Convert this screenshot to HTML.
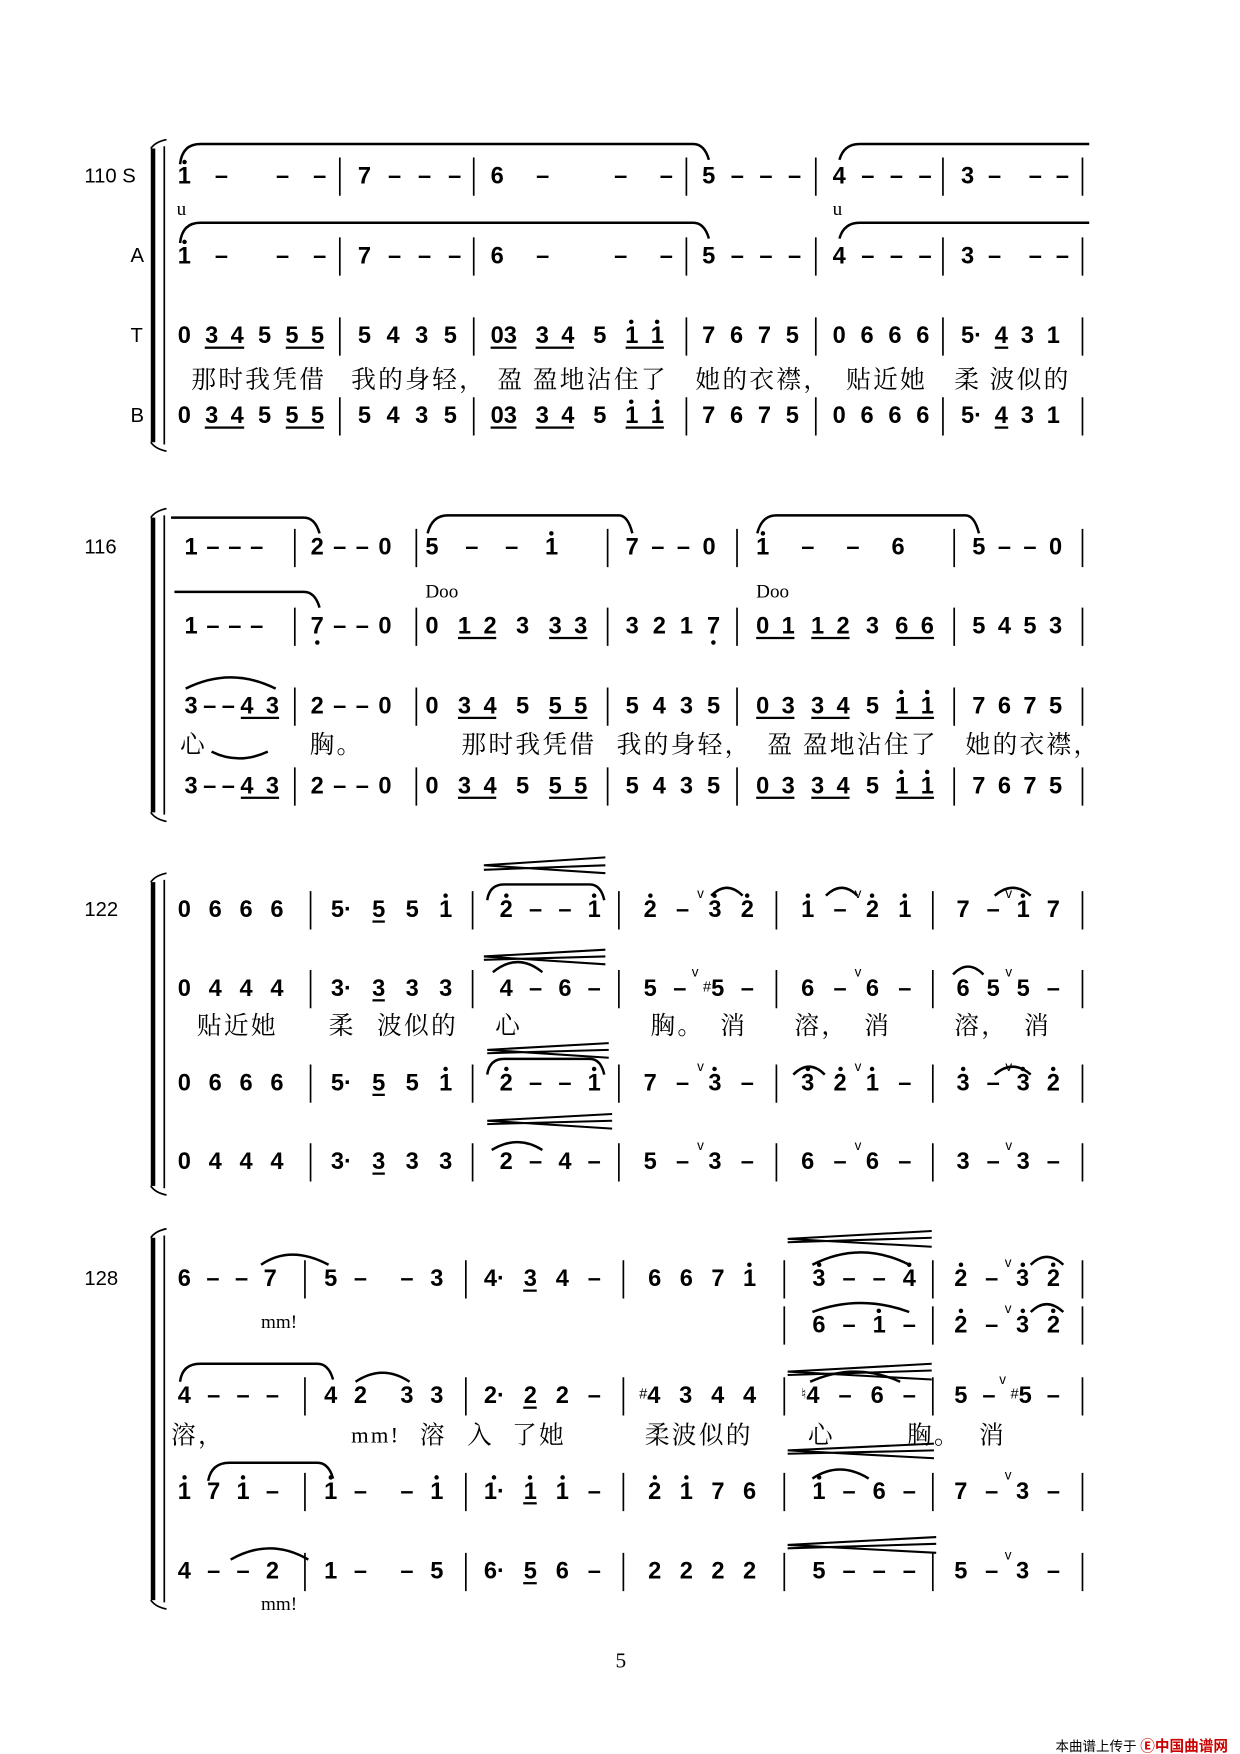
<!DOCTYPE html>
<html><head><meta charset="utf-8"><style>
body{margin:0;background:#fff}
#w{position:relative;width:1102px;height:1559px;transform:scale(1.12523);transform-origin:0 0;overflow:hidden}
.m{position:absolute;display:flex;justify-content:space-between;align-items:center;height:22px;font:bold 21px "Liberation Sans",sans-serif;line-height:20px;color:#000}
.m span{position:relative}
.h::before{content:"";position:absolute;left:50%;top:-5px;width:4px;height:4px;margin-left:-2px;border-radius:50%;background:#000}
.l::after{content:"";position:absolute;left:50%;bottom:-6px;width:4px;height:4px;margin-left:-2px;border-radius:50%;background:#000}
.m .u{display:flex;gap:11px;border-bottom:2px solid #000;line-height:19px}
.v{position:absolute;left:-10px;top:-12px;font:normal 12px "Liberation Sans",sans-serif}
.sh{font:normal 13px "Liberation Sans",sans-serif;vertical-align:top}
.ly{position:absolute;font:22px "Liberation Serif","Noto Serif CJK SC",serif;white-space:pre;line-height:24px;letter-spacing:2px}
.lb{position:absolute;font:18px "Liberation Sans",sans-serif}
.sm{position:absolute;font:17px "Liberation Serif",serif}
svg{position:absolute;left:0;top:0}
</style></head><body><div id="w">
<svg width="1102" height="1559" fill="none" stroke="#000">
<g stroke-width="4">
<path d="M136 132V393M136 460V722M136 784V1054M136 1100V1422"/>
</g>
<g stroke-width="1.5">
<path d="M146 130V395M146 458V724M146 782V1056M146 1098V1424"/>
<path d="M134 132Q138 126 148 124M134 393Q138 399 148 401M134 460Q138 454 148 452M134 722Q138 728 148 730M134 784Q138 778 148 776M134 1054Q138 1060 148 1062M134 1100Q138 1094 148 1092M134 1422Q138 1428 148 1430"/>
<path d="M302 140v34M421 140v34M610 140v34M725 140v34M838 140v34M962 140v34M302 211v34M421 211v34M610 211v34M725 211v34M838 211v34M962 211v34M302 282v34M421 282v34M610 282v34M725 282v34M838 282v34M962 282v34M302 353v34M421 353v34M610 353v34M725 353v34M838 353v34M962 353v34"/>
<path d="M262 470v34M370 470v34M540 470v34M655 470v34M848 470v34M962 470v34M262 540v34M370 540v34M540 540v34M655 540v34M848 540v34M962 540v34M262 611v34M370 611v34M540 611v34M655 611v34M848 611v34M962 611v34M262 682v34M370 682v34M540 682v34M655 682v34M848 682v34M962 682v34"/>
<path d="M276 792v34M420 792v34M550 792v34M690 792v34M829 792v34M962 792v34M276 862v34M420 862v34M550 862v34M690 862v34M829 862v34M962 862v34M276 946v34M420 946v34M550 946v34M690 946v34M829 946v34M962 946v34M276 1016v34M420 1016v34M550 1016v34M690 1016v34M829 1016v34M962 1016v34"/>
<path d="M271 1120v34M414 1120v34M554 1120v34M697 1120v34M829 1120v34M962 1120v34M697 1161v34M829 1161v34M962 1161v34M271 1224v34M414 1224v34M554 1224v34M697 1224v34M829 1224v34M962 1224v34M271 1309v34M414 1309v34M554 1309v34M697 1309v34M829 1309v34M962 1309v34M271 1380v34M414 1380v34M554 1380v34M697 1380v34M829 1380v34M962 1380v34"/>
</g>
<g stroke-width="2.2">
<path d="M160 146Q162 128 178 128H616Q626 128 630 142"/>
<path d="M160 216Q162 198 178 198H616Q626 198 630 212"/>
<path d="M746 142Q750 128 764 128H968"/>
<path d="M746 212Q750 198 764 198H968"/>
<path d="M152 460H270Q280 460 284 474"/>
<path d="M155 526H270Q280 526 284 540"/>
<path d="M380 474Q384 458 398 458H550Q558 458 562 474"/>
<path d="M673 474Q677 458 690 458H858Q866 458 870 474"/>
<path d="M165 612Q205 592 245 612"/>
<path d="M188 668Q212 680 238 668"/>
<path d="M433 800Q435 786 448 786H524Q534 786 537 800"/>
<path d="M438 864Q460 846 482 864"/>
<path d="M632 796Q646 782 660 796"/>
<path d="M734 796Q748 782 762 796"/>
<path d="M884 796Q900 782 916 796"/>
<path d="M847 866Q860 852 874 866"/>
<path d="M433 955Q435 941 448 941H524Q534 941 537 955"/>
<path d="M705 955Q719 941 733 955"/>
<path d="M884 955Q900 941 916 955"/>
<path d="M437 1022Q460 1008 482 1022"/>
<path d="M232 1124Q258 1106 292 1124"/>
<path d="M722 1124Q765 1102 808 1124"/>
<path d="M722 1166Q765 1150 808 1166"/>
<path d="M916 1124Q930 1110 945 1124"/>
<path d="M916 1166Q930 1152 945 1166"/>
<path d="M160 1228Q162 1212 178 1212H282Q292 1212 296 1226"/>
<path d="M316 1228Q340 1212 364 1228"/>
<path d="M720 1228Q760 1210 800 1228"/>
<path d="M185 1316Q188 1300 204 1300H282Q292 1300 296 1314"/>
<path d="M722 1314Q746 1298 772 1314"/>
<path d="M205 1386Q240 1366 274 1386"/>
</g>
<g stroke-width="1.8">
<path d="M430 769L538 762M430 769L538 776M430 773L538 769"/>
<path d="M430 850L538 844M430 850L538 857M430 853L538 850"/>
<path d="M433 933L541 927M433 933L541 940M433 936L541 933"/>
<path d="M433 996L544 990M433 996L544 1003M433 999L544 996"/>
<path d="M700 1101L828 1094M700 1101L828 1108M700 1104L828 1100"/>
<path d="M700 1219L828 1212M700 1219L828 1226M700 1222L828 1218"/>
<path d="M700 1289L830 1283M700 1289L830 1296M700 1292L830 1289"/>
<path d="M700 1373L832 1366M700 1373L832 1380M700 1376L832 1372"/>
</g>
</svg>

<div class="lb" style="left:75px;top:146px">110 S</div>
<div class="lb" style="left:116px;top:217px">A</div>
<div class="lb" style="left:116px;top:288px">T</div>
<div class="lb" style="left:116px;top:359px">B</div>
<div class="lb" style="left:75px;top:476px">116</div>
<div class="lb" style="left:75px;top:798px">122</div>
<div class="lb" style="left:75px;top:1126px">128</div>
<div class="sm" style="left:157px;top:176px">u</div>
<div class="sm" style="left:740px;top:176px">u</div>

<!-- System 1 -->
<div class="m" style="left:158px;top:146px;width:132px"><span class="h">1</span><span>–</span><span></span><span>–</span><span>–</span></div>
<div class="m" style="left:318px;top:146px;width:92px"><span>7</span><span>–</span><span>–</span><span>–</span></div>
<div class="m" style="left:436px;top:146px;width:162px"><span>6</span><span>–</span><span></span><span>–</span><span>–</span></div>
<div class="m" style="left:624px;top:146px;width:88px"><span>5</span><span>–</span><span>–</span><span>–</span></div>
<div class="m" style="left:740px;top:146px;width:88px"><span>4</span><span>–</span><span>–</span><span>–</span></div>
<div class="m" style="left:854px;top:146px;width:96px"><span>3</span><span>–</span><span></span><span>–</span><span>–</span></div>
<div class="m" style="left:158px;top:217px;width:132px"><span class="h">1</span><span>–</span><span></span><span>–</span><span>–</span></div>
<div class="m" style="left:318px;top:217px;width:92px"><span>7</span><span>–</span><span>–</span><span>–</span></div>
<div class="m" style="left:436px;top:217px;width:162px"><span>6</span><span>–</span><span></span><span>–</span><span>–</span></div>
<div class="m" style="left:624px;top:217px;width:88px"><span>5</span><span>–</span><span>–</span><span>–</span></div>
<div class="m" style="left:740px;top:217px;width:88px"><span>4</span><span>–</span><span>–</span><span>–</span></div>
<div class="m" style="left:854px;top:217px;width:96px"><span>3</span><span>–</span><span></span><span>–</span><span>–</span></div>

<div class="m" style="left:158px;top:288px;width:130px"><span>0</span><span class="u"><span>3</span><span>4</span></span><span>5</span><span class="u"><span>5</span><span>5</span></span></div>
<div class="m" style="left:318px;top:288px;width:88px"><span>5</span><span>4</span><span>3</span><span>5</span></div>
<div class="m" style="left:436px;top:288px;width:154px"><span class="u"><span>03</span></span><span class="u"><span>3</span><span>4</span></span><span>5</span><span class="u"><span class="h">1</span><span class="h">1</span></span></div>
<div class="m" style="left:624px;top:288px;width:86px"><span>7</span><span>6</span><span>7</span><span>5</span></div>
<div class="m" style="left:740px;top:288px;width:86px"><span>0</span><span>6</span><span>6</span><span>6</span></div>
<div class="m" style="left:854px;top:288px;width:88px"><span>5·</span><span class="u"><span>4</span></span><span>3</span><span>1</span></div>
<div class="ly" style="left:170px;top:326px">那时我凭借</div>
<div class="ly" style="left:312px;top:326px">我的身轻，</div>
<div class="ly" style="left:442px;top:326px">盈 盈地沾住了</div>
<div class="ly" style="left:618px;top:326px">她的衣襟，</div>
<div class="ly" style="left:752px;top:326px">贴近她</div>
<div class="ly" style="left:848px;top:326px">柔 波似的</div>
<div class="m" style="left:158px;top:359px;width:130px"><span>0</span><span class="u"><span>3</span><span>4</span></span><span>5</span><span class="u"><span>5</span><span>5</span></span></div>
<div class="m" style="left:318px;top:359px;width:88px"><span>5</span><span>4</span><span>3</span><span>5</span></div>
<div class="m" style="left:436px;top:359px;width:154px"><span class="u"><span>03</span></span><span class="u"><span>3</span><span>4</span></span><span>5</span><span class="u"><span class="h">1</span><span class="h">1</span></span></div>
<div class="m" style="left:624px;top:359px;width:86px"><span>7</span><span>6</span><span>7</span><span>5</span></div>
<div class="m" style="left:740px;top:359px;width:86px"><span>0</span><span>6</span><span>6</span><span>6</span></div>
<div class="m" style="left:854px;top:359px;width:88px"><span>5·</span><span class="u"><span>4</span></span><span>3</span><span>1</span></div>

<!-- System 2 -->
<div class="m" style="left:164px;top:476px;width:70px"><span>1</span><span>–</span><span>–</span><span>–</span></div>
<div class="m" style="left:276px;top:476px;width:72px"><span>2</span><span>–</span><span>–</span><span>0</span></div>
<div class="m" style="left:378px;top:476px;width:118px"><span>5</span><span>–</span><span>–</span><span class="h">1</span></div>
<div class="m" style="left:556px;top:476px;width:80px"><span>7</span><span>–</span><span>–</span><span>0</span></div>
<div class="m" style="left:672px;top:476px;width:132px"><span class="h">1</span><span>–</span><span>–</span><span>6</span></div>
<div class="m" style="left:864px;top:476px;width:80px"><span>5</span><span>–</span><span>–</span><span>0</span></div>
<div class="sm" style="left:378px;top:516px">Doo</div>
<div class="sm" style="left:672px;top:516px">Doo</div>
<div class="m" style="left:164px;top:546px;width:70px"><span>1</span><span>–</span><span>–</span><span>–</span></div>
<div class="m" style="left:276px;top:546px;width:72px"><span class="l">7</span><span>–</span><span>–</span><span>0</span></div>
<div class="m" style="left:378px;top:546px;width:144px"><span>0</span><span class="u"><span>1</span><span>2</span></span><span>3</span><span class="u"><span>3</span><span>3</span></span></div>
<div class="m" style="left:556px;top:546px;width:84px"><span>3</span><span>2</span><span>1</span><span class="l">7</span></div>
<div class="m" style="left:672px;top:546px;width:158px"><span class="u"><span>0</span><span>1</span></span><span class="u"><span>1</span><span>2</span></span><span>3</span><span class="u"><span>6</span><span>6</span></span></div>
<div class="m" style="left:864px;top:546px;width:80px"><span>5</span><span>4</span><span>5</span><span>3</span></div>
<div class="m" style="left:164px;top:617px;width:84px"><span>3</span><span>–</span><span>–</span><span class="u"><span>4</span><span>3</span></span></div>
<div class="m" style="left:276px;top:617px;width:72px"><span>2</span><span>–</span><span>–</span><span>0</span></div>
<div class="m" style="left:378px;top:617px;width:144px"><span>0</span><span class="u"><span>3</span><span>4</span></span><span>5</span><span class="u"><span>5</span><span>5</span></span></div>
<div class="m" style="left:556px;top:617px;width:84px"><span>5</span><span>4</span><span>3</span><span>5</span></div>
<div class="m" style="left:672px;top:617px;width:158px"><span class="u"><span>0</span><span>3</span></span><span class="u"><span>3</span><span>4</span></span><span>5</span><span class="u"><span class="h">1</span><span class="h">1</span></span></div>
<div class="m" style="left:864px;top:617px;width:80px"><span>7</span><span>6</span><span>7</span><span>5</span></div>
<div class="ly" style="left:160px;top:650px">心</div>
<div class="ly" style="left:275px;top:650px">胸。</div>
<div class="ly" style="left:410px;top:650px">那时我凭借</div>
<div class="ly" style="left:548px;top:650px">我的身轻，</div>
<div class="ly" style="left:682px;top:650px">盈 盈地沾住了</div>
<div class="ly" style="left:858px;top:650px">她的衣襟，</div>
<div class="m" style="left:164px;top:688px;width:84px"><span>3</span><span>–</span><span>–</span><span class="u"><span>4</span><span>3</span></span></div>
<div class="m" style="left:276px;top:688px;width:72px"><span>2</span><span>–</span><span>–</span><span>0</span></div>
<div class="m" style="left:378px;top:688px;width:144px"><span>0</span><span class="u"><span>3</span><span>4</span></span><span>5</span><span class="u"><span>5</span><span>5</span></span></div>
<div class="m" style="left:556px;top:688px;width:84px"><span>5</span><span>4</span><span>3</span><span>5</span></div>
<div class="m" style="left:672px;top:688px;width:158px"><span class="u"><span>0</span><span>3</span></span><span class="u"><span>3</span><span>4</span></span><span>5</span><span class="u"><span class="h">1</span><span class="h">1</span></span></div>
<div class="m" style="left:864px;top:688px;width:80px"><span>7</span><span>6</span><span>7</span><span>5</span></div>

<!-- System 3 -->
<div class="m" style="left:158px;top:798px;width:94px"><span>0</span><span>6</span><span>6</span><span>6</span></div>
<div class="m" style="left:294px;top:798px;width:108px"><span>5·</span><span class="u"><span>5</span></span><span>5</span><span class="h">1</span></div>
<div class="m" style="left:444px;top:798px;width:90px"><span class="h">2</span><span>–</span><span>–</span><span class="h">1</span></div>
<div class="m" style="left:572px;top:798px;width:98px"><span class="h">2</span><span>–</span><span class="h"><i class="v">v</i>3</span><span class="h">2</span></div>
<div class="m" style="left:712px;top:798px;width:98px"><span class="h">1</span><span>–</span><span class="h"><i class="v">v</i>2</span><span class="h">1</span></div>
<div class="m" style="left:850px;top:798px;width:92px"><span>7</span><span>–</span><span class="h"><i class="v">v</i>1</span><span>7</span></div>
<div class="m" style="left:158px;top:868px;width:94px"><span>0</span><span>4</span><span>4</span><span>4</span></div>
<div class="m" style="left:294px;top:868px;width:108px"><span>3·</span><span class="u"><span>3</span></span><span>3</span><span>3</span></div>
<div class="m" style="left:444px;top:868px;width:90px"><span>4</span><span>–</span><span>6</span><span>–</span></div>
<div class="m" style="left:572px;top:868px;width:98px"><span>5</span><span>–</span><span><i class="v">v</i><span class="sh">#</span>5</span><span>–</span></div>
<div class="m" style="left:712px;top:868px;width:98px"><span>6</span><span>–</span><span><i class="v">v</i>6</span><span>–</span></div>
<div class="m" style="left:850px;top:868px;width:92px"><span>6</span><span>5</span><span><i class="v">v</i>5</span><span>–</span></div>
<div class="ly" style="left:175px;top:900px">贴近她</div>
<div class="ly" style="left:292px;top:900px">柔</div>
<div class="ly" style="left:335px;top:900px">波似的</div>
<div class="ly" style="left:440px;top:900px">心</div>
<div class="ly" style="left:578px;top:900px">胸。</div>
<div class="ly" style="left:640px;top:900px">消</div>
<div class="ly" style="left:706px;top:900px">溶，</div>
<div class="ly" style="left:768px;top:900px">消</div>
<div class="ly" style="left:848px;top:900px">溶，</div>
<div class="ly" style="left:910px;top:900px">消</div>
<div class="m" style="left:158px;top:952px;width:94px"><span>0</span><span>6</span><span>6</span><span>6</span></div>
<div class="m" style="left:294px;top:952px;width:108px"><span>5·</span><span class="u"><span>5</span></span><span>5</span><span class="h">1</span></div>
<div class="m" style="left:444px;top:952px;width:90px"><span class="h">2</span><span>–</span><span>–</span><span class="h">1</span></div>
<div class="m" style="left:572px;top:952px;width:98px"><span>7</span><span>–</span><span class="h"><i class="v">v</i>3</span><span>–</span></div>
<div class="m" style="left:712px;top:952px;width:98px"><span class="h">3</span><span class="h">2</span><span class="h"><i class="v">v</i>1</span><span>–</span></div>
<div class="m" style="left:850px;top:952px;width:92px"><span class="h">3</span><span>–</span><span class="h"><i class="v">v</i>3</span><span class="h">2</span></div>
<div class="m" style="left:158px;top:1022px;width:94px"><span>0</span><span>4</span><span>4</span><span>4</span></div>
<div class="m" style="left:294px;top:1022px;width:108px"><span>3·</span><span class="u"><span>3</span></span><span>3</span><span>3</span></div>
<div class="m" style="left:444px;top:1022px;width:90px"><span>2</span><span>–</span><span>4</span><span>–</span></div>
<div class="m" style="left:572px;top:1022px;width:98px"><span>5</span><span>–</span><span><i class="v">v</i>3</span><span>–</span></div>
<div class="m" style="left:712px;top:1022px;width:98px"><span>6</span><span>–</span><span><i class="v">v</i>6</span><span>–</span></div>
<div class="m" style="left:850px;top:1022px;width:92px"><span>3</span><span>–</span><span><i class="v">v</i>3</span><span>–</span></div>

<!-- System 4 -->
<div class="m" style="left:158px;top:1126px;width:88px"><span>6</span><span>–</span><span>–</span><span>7</span></div>
<div class="m" style="left:288px;top:1126px;width:106px"><span>5</span><span>–</span><span></span><span>–</span><span>3</span></div>
<div class="m" style="left:430px;top:1126px;width:104px"><span>4·</span><span class="u"><span>3</span></span><span>4</span><span>–</span></div>
<div class="m" style="left:576px;top:1126px;width:96px"><span>6</span><span>6</span><span>7</span><span class="h">1</span></div>
<div class="m" style="left:722px;top:1126px;width:92px"><span class="h">3</span><span>–</span><span>–</span><span class="h">4</span></div>
<div class="m" style="left:848px;top:1126px;width:94px"><span class="h">2</span><span>–</span><span class="h"><i class="v">v</i>3</span><span class="h">2</span></div>
<div class="sm" style="left:232px;top:1165px">mm!</div>
<div class="m" style="left:722px;top:1167px;width:92px"><span>6</span><span>–</span><span class="h">1</span><span>–</span></div>
<div class="m" style="left:848px;top:1167px;width:94px"><span class="h">2</span><span>–</span><span class="h"><i class="v">v</i>3</span><span class="h">2</span></div>
<div class="m" style="left:158px;top:1230px;width:90px"><span>4</span><span>–</span><span>–</span><span>–</span></div>
<div class="m" style="left:288px;top:1230px;width:106px"><span>4</span><span>2</span><span></span><span>3</span><span>3</span></div>
<div class="m" style="left:430px;top:1230px;width:104px"><span>2·</span><span class="u"><span>2</span></span><span>2</span><span>–</span></div>
<div class="m" style="left:568px;top:1230px;width:104px"><span><span class="sh">#</span>4</span><span>3</span><span>4</span><span>4</span></div>
<div class="m" style="left:712px;top:1230px;width:102px"><span><span class="sh">♮</span>4</span><span>–</span><span>6</span><span>–</span></div>
<div class="m" style="left:848px;top:1230px;width:94px"><span>5</span><span>–</span><span><i class="v">v</i><span class="sh">#</span>5</span><span>–</span></div>
<div class="ly" style="left:152px;top:1264px">溶，</div>
<div class="ly" style="left:312px;top:1264px;font-size:20px">mm!</div>
<div class="ly" style="left:373px;top:1264px">溶</div>
<div class="ly" style="left:415px;top:1264px">入</div>
<div class="ly" style="left:455px;top:1264px">了她</div>
<div class="ly" style="left:573px;top:1264px">柔波似的</div>
<div class="ly" style="left:718px;top:1264px">心</div>
<div class="ly" style="left:806px;top:1264px">胸。</div>
<div class="ly" style="left:870px;top:1264px">消</div>
<div class="m" style="left:158px;top:1315px;width:90px"><span class="h">1</span><span>7</span><span class="h">1</span><span>–</span></div>
<div class="m" style="left:288px;top:1315px;width:106px"><span class="h">1</span><span>–</span><span></span><span>–</span><span class="h">1</span></div>
<div class="m" style="left:430px;top:1315px;width:104px"><span class="h">1·</span><span class="u"><span class="h">1</span></span><span class="h">1</span><span>–</span></div>
<div class="m" style="left:576px;top:1315px;width:96px"><span class="h">2</span><span class="h">1</span><span>7</span><span>6</span></div>
<div class="m" style="left:722px;top:1315px;width:92px"><span class="h">1</span><span>–</span><span>6</span><span>–</span></div>
<div class="m" style="left:848px;top:1315px;width:94px"><span>7</span><span>–</span><span><i class="v">v</i>3</span><span>–</span></div>
<div class="m" style="left:158px;top:1386px;width:90px"><span>4</span><span>–</span><span>–</span><span>2</span></div>
<div class="m" style="left:288px;top:1386px;width:106px"><span>1</span><span>–</span><span></span><span>–</span><span>5</span></div>
<div class="m" style="left:430px;top:1386px;width:104px"><span>6·</span><span class="u"><span>5</span></span><span>6</span><span>–</span></div>
<div class="m" style="left:576px;top:1386px;width:96px"><span>2</span><span>2</span><span>2</span><span>2</span></div>
<div class="m" style="left:722px;top:1386px;width:92px"><span>5</span><span>–</span><span>–</span><span>–</span></div>
<div class="m" style="left:848px;top:1386px;width:94px"><span>5</span><span>–</span><span><i class="v">v</i>3</span><span>–</span></div>
<div class="sm" style="left:232px;top:1416px">mm!</div>

<div class="sm" style="left:547px;top:1466px;font-size:19px">5</div>
<div style="position:absolute;left:938px;top:1541px;font:12px 'Liberation Sans','Noto Sans CJK SC',sans-serif">本曲谱上传于 <span style="color:#c00;font-weight:bold;font-size:13px">Ⓔ中国曲谱网</span></div>
</div></body></html>
